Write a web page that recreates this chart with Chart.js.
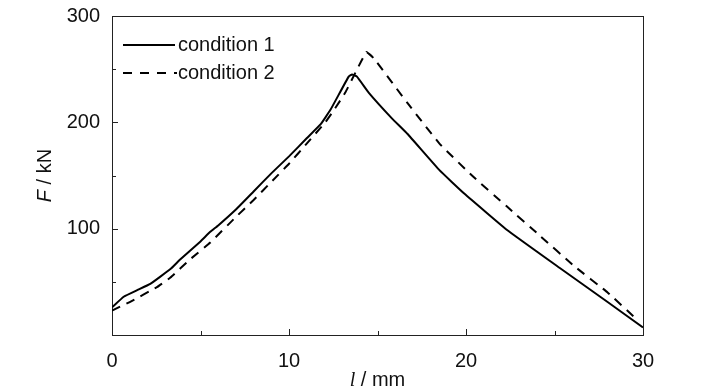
<!DOCTYPE html>
<html>
<head>
<meta charset="utf-8">
<script src="https://cdn.jsdelivr.net/npm/chart.js@4/dist/chart.umd.min.js"></script>
<style>
  html, body { margin: 0; padding: 0; background: #fff; }
  #wrap { width: 728px; height: 390px; }
</style>
</head>
<body>
<div id="wrap"><canvas id="forceChart" width="728" height="390"></canvas></div>
<script>
// condition 1 (solid)
const lengthC1 = [0, 0.66, 1.4, 2.16, 3.3, 3.85, 5.0, 5.55, 6.0, 7.0, 8.0, 9.0, 10.0, 11.0, 11.78, 12.35, 13.37, 13.56, 13.84, 14.5, 15.8, 16.7, 18.5, 19.9, 22.3, 25.3, 28.0, 30];
const forceC1  = [26, 36, 42, 48, 62, 71, 88, 97, 103, 118, 135, 152, 168, 185, 198, 212, 243, 245, 243, 228, 204, 189, 155, 133, 99, 63, 31, 7];

// condition 2 (dashed)
const lengthC2 = [0, 1.0, 2.54, 3.3, 4.4, 5.55, 7.0, 8.0, 9.0, 10.0, 11.0, 12.05, 12.52, 13.18, 14.37, 14.8, 16.7, 18.5, 20.4, 22.3, 24.2, 26.1, 28.0, 29.5];
const forceC2  = [23, 31, 45, 54, 71, 87, 111, 127, 144, 161, 180, 200, 211, 228, 266, 260, 218, 180, 149, 121, 93, 65, 40, 17];

const seriesNames = ['condition 1', 'condition 2'];
const xTickLabels = [0, 10, 20, 30];
const yTickLabels = [100, 200, 300];

const FONT = '"Liberation Sans", Arial, sans-serif';

function toPoints(xs, ys) {
    return xs.map((x, i) => ({ x: x, y: ys[i] }));
}

// inward tick marks, legend and axis titles drawn on the canvas
const decorPlugin = {
    id: 'decor',
    afterDraw(chart) {
        const ctx = chart.ctx;
        const area = chart.chartArea;
        const xs = chart.scales.x, ys = chart.scales.y;
        ctx.save();
        ctx.strokeStyle = '#222';
        ctx.lineWidth = 1;
        ctx.beginPath();
        for (let v = 5; v < 30; v += 5) {
            const px = Math.round(xs.getPixelForValue(v)) + 0.5;
            const len = v % 10 === 0 ? 6 : 4;
            ctx.moveTo(px, area.bottom);
            ctx.lineTo(px, area.bottom - len);
        }
        for (let v = 50; v < 300; v += 50) {
            const py = Math.round(ys.getPixelForValue(v)) + 0.5;
            const len = v % 100 === 0 ? 6 : 4;
            ctx.moveTo(area.left, py);
            ctx.lineTo(area.left + len, py);
        }
        ctx.stroke();

        // legend
        ctx.strokeStyle = '#000';
        ctx.lineWidth = 2;
        ctx.beginPath();
        ctx.moveTo(123, 45);
        ctx.lineTo(175, 45);
        ctx.stroke();
        ctx.setLineDash([9, 8]);
        ctx.beginPath();
        ctx.moveTo(123, 73);
        ctx.lineTo(177, 73);
        ctx.stroke();
        ctx.setLineDash([]);
        ctx.fillStyle = '#111';
        ctx.font = '20px ' + FONT;
        ctx.textBaseline = 'middle';
        ctx.textAlign = 'left';
        ctx.fillText(seriesNames[0], 178, 45);
        ctx.fillText(seriesNames[1], 178, 73);

        // x title: l / mm
        ctx.textBaseline = 'alphabetic';
        const xt1 = 'l', xt2 = ' / mm';
        ctx.font = 'italic 20px "Liberation Serif", serif';
        const w1 = ctx.measureText(xt1).width;
        ctx.font = '20px ' + FONT;
        const w2 = ctx.measureText(xt2).width;
        let sx = (area.left + area.right) / 2 - (w1 + w2) / 2;
        ctx.font = 'italic 20px "Liberation Serif", serif';
        ctx.fillText(xt1, sx, 386);
        ctx.font = '20px ' + FONT;
        ctx.fillText(xt2, sx + w1, 386);

        // y title: F / kN
        ctx.translate(51, (area.top + area.bottom) / 2);
        ctx.rotate(-Math.PI / 2);
        const yt1 = 'F', yt2 = ' / kN';
        ctx.font = 'italic 20px ' + FONT;
        const v1 = ctx.measureText(yt1).width;
        ctx.font = '20px ' + FONT;
        const v2 = ctx.measureText(yt2).width;
        const sy = -(v1 + v2) / 2;
        ctx.font = 'italic 20px ' + FONT;
        ctx.fillText(yt1, sy, 0);
        ctx.font = '20px ' + FONT;
        ctx.fillText(yt2, sy + v1, 0);
        ctx.restore();
    }
};

const ctx1 = document.getElementById('forceChart').getContext('2d');
new Chart(ctx1, {
    type: 'line',
    data: {
        datasets: [{
            label: seriesNames[0],
            data: toPoints(lengthC1, forceC1),
            borderColor: '#000',
            borderWidth: 2,
            pointRadius: 0,
            tension: 0.1,
            fill: false
        }, {
            label: seriesNames[1],
            data: toPoints(lengthC2, forceC2),
            borderColor: '#000',
            borderWidth: 2,
            borderDash: [9, 7],
            pointRadius: 0,
            tension: 0.1,
            fill: false
        }]
    },
    options: {
        responsive: false,
        animation: false,
        layout: { padding: { top: 14, right: 85, bottom: 0, left: 0 } },
        plugins: { legend: { display: false }, tooltip: { enabled: false } },
        scales: {
            x: {
                type: 'linear',
                min: 0, max: 30,
                afterFit: s => { s.height = 55; },
                afterBuildTicks: s => { s.ticks = xTickLabels.map(v => ({ value: v })); },
                grid: { display: false },
                border: { display: true, color: '#222', width: 1 },
                ticks: { color: '#111', font: { family: FONT, size: 20 }, padding: 6, maxRotation: 0 }
            },
            y: {
                min: 0, max: 300,
                afterFit: s => { s.width = 112; },
                afterBuildTicks: s => { s.ticks = yTickLabels.map(v => ({ value: v })); },
                grid: { display: false },
                border: { display: true, color: '#222', width: 1 },
                ticks: { color: '#111', font: { family: FONT, size: 20 }, padding: 4 }
            },
            x2: {
                type: 'linear', position: 'top', min: 0, max: 30,
                grid: { display: false }, ticks: { display: false },
                border: { display: true, color: '#222', width: 1 },
                afterFit: s => { s.height = 0; }
            },
            y2: {
                type: 'linear', position: 'right', min: 0, max: 300,
                grid: { display: false }, ticks: { display: false },
                border: { display: true, color: '#222', width: 1 },
                afterFit: s => { s.width = 0; }
            }
        }
    },
    plugins: [decorPlugin]
});
</script>
</body>
</html>
